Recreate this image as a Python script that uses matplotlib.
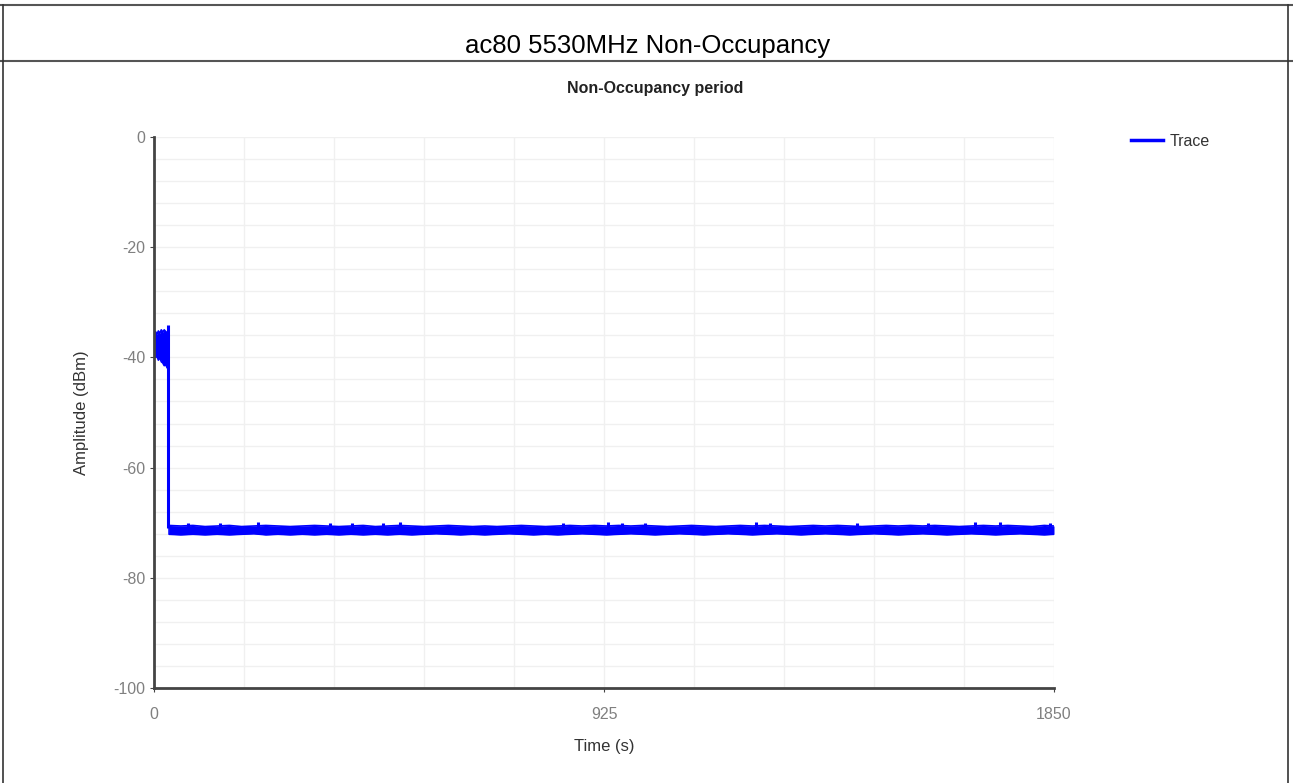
import numpy as np
import matplotlib
matplotlib.use('Agg')
import matplotlib.pyplot as plt
import matplotlib.lines as mlines

plt.rcParams['font.family'] = ['Liberation Sans', 'DejaVu Sans']
plt.rcParams['axes.unicode_minus'] = False

# envelope of the trace (time in s, amplitude in dBm)
time_s = [0, 3, 6, 9, 12, 15, 18, 21, 24, 27, 29.5, 30.5,
          31, 55, 80, 105, 130, 155, 180, 205, 230, 255, 280, 305, 330, 355,
          380, 405, 430, 455, 480, 505, 530, 555, 580, 605, 630, 655, 680,
          705, 730, 755, 780, 805, 830, 855, 880, 905, 930, 955, 980, 1005,
          1030, 1055, 1080, 1105, 1130, 1155, 1180, 1205, 1230, 1255, 1280,
          1305, 1330, 1355, 1380, 1405, 1430, 1455, 1480, 1505, 1530, 1555,
          1580, 1605, 1630, 1655, 1680, 1705, 1730, 1755, 1780, 1805, 1830, 1850]
amp_hi = [-35.5, -35.3, -35.8, -35.2, -35.6, -35.0, -35.4, -35.0, -35.3, -35.5, -35.2, -35.0,
          -70.5, -70.6, -70.5, -70.7, -70.6, -70.5, -70.7, -70.6, -70.5, -70.6, -70.7, -70.6, -70.5, -70.6,
          -70.7, -70.6, -70.5, -70.7, -70.6, -70.5, -70.6, -70.7, -70.6, -70.5, -70.6, -70.7, -70.6,
          -70.7, -70.6, -70.5, -70.6, -70.7, -70.6, -70.5, -70.6, -70.5, -70.6, -70.5, -70.6, -70.5,
          -70.6, -70.7, -70.6, -70.5, -70.6, -70.7, -70.6, -70.5, -70.6, -70.5, -70.6,
          -70.7, -70.6, -70.5, -70.6, -70.5, -70.6, -70.7, -70.6, -70.5, -70.6, -70.5,
          -70.6, -70.5, -70.6, -70.7, -70.6, -70.5, -70.6, -70.5, -70.6, -70.7, -70.5, -70.6]
amp_lo = [-39.5, -40.0, -39.8, -40.5, -40.0, -40.8, -41.0, -41.5, -41.3, -41.9, -42.0, -41.8,
          -72.1, -72.2, -72.1, -72.2, -72.1, -72.2, -72.1, -72.0, -72.2, -72.1, -72.2, -72.1, -72.2, -72.1,
          -72.2, -72.1, -72.2, -72.1, -72.2, -72.1, -72.2, -72.1, -72.0, -72.1, -72.2, -72.1, -72.2,
          -72.1, -72.0, -72.1, -72.2, -72.1, -72.2, -72.1, -72.0, -72.1, -72.2, -72.1, -72.0, -72.1,
          -72.2, -72.1, -72.0, -72.1, -72.2, -72.1, -72.0, -72.1, -72.2, -72.1, -72.0,
          -72.1, -72.2, -72.1, -72.0, -72.1, -72.2, -72.1, -72.0, -72.1, -72.2, -72.1,
          -72.0, -72.1, -72.2, -72.1, -72.0, -72.1, -72.2, -72.1, -72.0, -72.1, -72.2, -72.1]

# short noise spikes sticking out above the band
spike_t = [28.8, 70, 136, 214, 362, 407, 471, 506, 841, 933, 962, 1009,
           1237, 1266, 1445, 1591, 1688, 1739, 1842]
spike_amp = [-34.1, -70.0, -70.1, -69.9, -70.1, -70.0, -70.1, -69.9, -70.1, -69.9, -70.0, -70.1,
             -69.8, -70.1, -70.1, -70.0, -69.9, -69.9, -70.1]

x_ticks = [0, 925, 1850]
y_ticks = [0, -20, -40, -60, -80, -100]

W, H = 1293, 783
fig = plt.figure(figsize=(W / 100, H / 100), dpi=100)

# table borders around the chart
def hline(y):
    fig.lines.append(mlines.Line2D([0, 1], [1 - y / H] * 2, transform=fig.transFigure,
                                   color='#555555', lw=1.5))

def vline(x):
    fig.lines.append(mlines.Line2D([x / W] * 2, [0, 1 - 5 / H], transform=fig.transFigure,
                                   color='#333333', lw=1.2))

hline(5)
hline(61)
vline(3)
vline(1288)

fig.text(648 / W, 1 - 46 / H, 'ac80 5530MHz Non-Occupancy', ha='center', va='center',
         fontsize=18.5)
fig.text(655 / W, 1 - 89 / H, 'Non-Occupancy period', ha='center', va='center',
         fontsize=11.5, fontweight='bold', color='#222222')

ax = fig.add_axes([154 / W, 1 - 688 / H, 900 / W, 551 / H])
t = np.array(time_s)
ax.fill_between(t, amp_lo, amp_hi, color='#0000ff', lw=0)
ax.plot(t, amp_hi, color='#0000ff', lw=1.2)
trace, = ax.plot(t, amp_lo, color='#0000ff', lw=1.2, label='Trace')
ax.vlines(spike_t, -71.0, spike_amp, color='#0000ff', lw=2.2)

ax.set_xlim(0, 1850)
ax.set_ylim(-100, 0)
ax.set_xticks(x_ticks)
ax.set_yticks(y_ticks)
ax.set_xticks(np.arange(0, 1851, 185), minor=True)
ax.set_yticks(np.arange(-100, 1, 4), minor=True)
ax.grid(True, which='both', color='#f0f0f0', lw=1)
ax.set_axisbelow(True)
ax.tick_params(which='minor', length=0)
ax.tick_params(which='major', length=3, colors='#444444', labelcolor='#808080',
               labelsize=11.5)
ax.tick_params(axis='x', pad=11)
ax.tick_params(axis='y', pad=3)

for side in ('top', 'right'):
    ax.spines[side].set_visible(False)
for side in ('left', 'bottom'):
    ax.spines[side].set_color('#444444')
    ax.spines[side].set_linewidth(2)

ax.set_xlabel('Time (s)', fontsize=12, color='#333333', labelpad=12)
ax.set_ylabel('Amplitude (dBm)', fontsize=12, color='#333333', labelpad=18)

fig.legend(handles=[trace], labels=['Trace'], loc='center left',
           bbox_to_anchor=(1117 / W, 1 - 141 / H), frameon=False, fontsize=11.5,
           handlelength=2.0, handletextpad=0.4, labelcolor='#333333')
fig.legends[0].get_lines()[0].set_linewidth(2.5)

fig.savefig('out.png', dpi=100)
